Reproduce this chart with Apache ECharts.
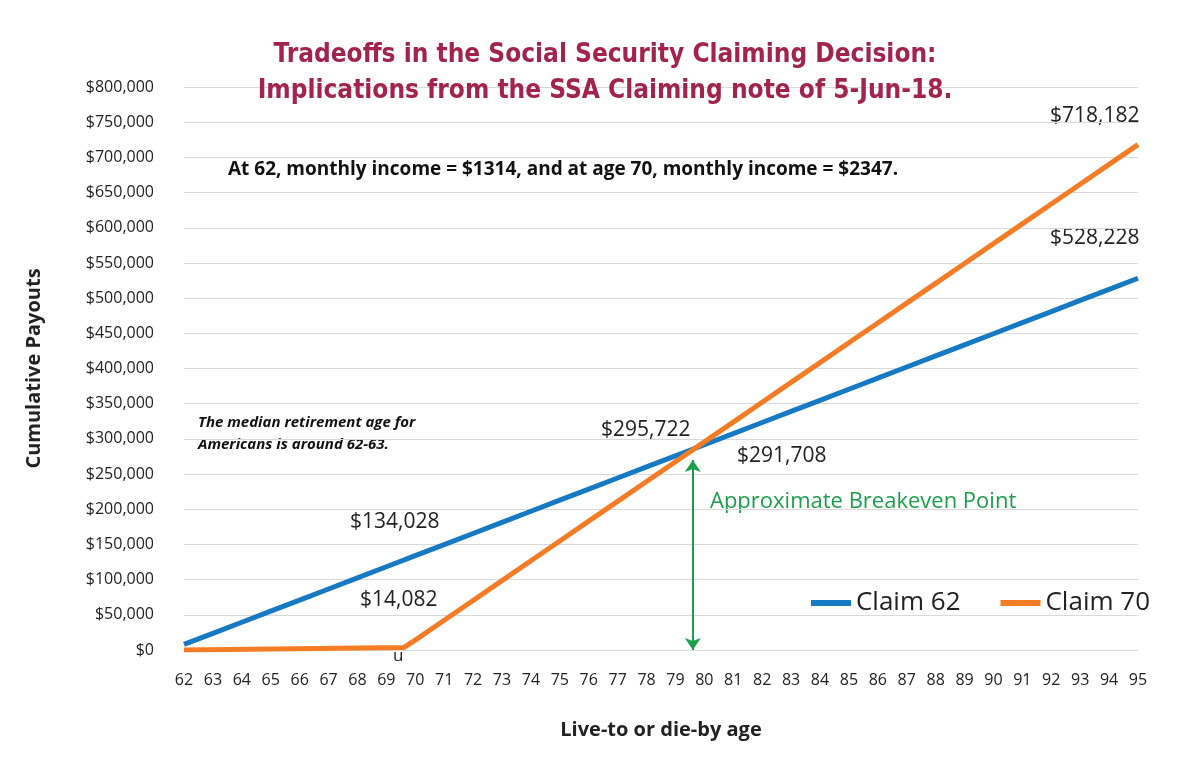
<!DOCTYPE html>
<html>
<head>
<meta charset="utf-8">
<script src="https://cdn.jsdelivr.net/npm/echarts@6/dist/echarts.min.js"></script>
<style>html,body{margin:0;background:#fff}#main{width:1200px;height:771px}</style>
</head>
<body>
<div id="main"></div>
<script>
const ages62 = [62,63,64,65,66,67,68,69,70,71,72,73,74,75,76,77,78,79,80,81,82,83,84,85,86,87,88,89,90,91,92,93,94,95];
const claim62 = [7884,23652,39420,55188,70956,86724,102492,118260,134028,149796,165564,181332,197100,212868,228636,244404,260172,275940,291708,307476,323244,339012,354780,370548,386316,402084,417852,433620,449388,465156,480924,496692,512460,528228];
const ages70 = [70,71,72,73,74,75,76,77,78,79,80,81,82,83,84,85,86,87,88,89,90,91,92,93,94,95];
const claim70 = [14082,42246,70410,98574,126738,154902,183066,211230,239394,267558,295722,323886,352050,380214,408378,436542,464706,492870,521034,549198,577362,605526,633690,661854,690018,718182];
// before 70 nothing is paid (line drawn flat up to the claim)
const pre70 = [[62, 0], [69.6, 3500]];

const font = 'Open Sans';
const myChart = echarts.init(document.getElementById('main'));
myChart.setOption({
    animation: false,
    textStyle: { fontFamily: font },
    grid: { left: 184, right: 62, top: 87, bottom: 121 },
    title: {
        text: 'Tradeoffs in the Social Security Claiming Decision:\nImplications from the SSA Claiming note of 5-Jun-18.',
        left: 600, top: 32, textAlign: 'center',
        textStyle: { fontFamily: 'DejaVu Sans Condensed', fontWeight: 'bold', fontSize: 26, color: '#a3234f', lineHeight: 36 }
    },
    legend: {
        right: 45, top: 585, itemWidth: 40, itemHeight: 6, itemGap: 40, icon: 'rect',
        textStyle: { fontSize: 26, color: '#222' },
        data: ['Claim 62', 'Claim 70']
    },
    xAxis: {
        type: 'value', min: 62, max: 95, interval: 1,
        name: 'Live-to or die-by age', nameLocation: 'middle', nameGap: 70,
        nameTextStyle: { fontSize: 20, fontWeight: 'bold', color: '#222', padding: [0, 0, 0, 0] },
        axisLine: { show: false }, axisTick: { show: false }, splitLine: { show: false },
        axisLabel: { fontSize: 16, color: '#222', margin: 22 }
    },
    yAxis: {
        type: 'value', min: 0, max: 800000, interval: 50000,
        name: 'Cumulative Payouts', nameLocation: 'middle', nameGap: 140,
        nameTextStyle: { fontSize: 20, fontWeight: 'bold', color: '#222' },
        axisLine: { show: false }, axisTick: { show: false },
        axisLabel: { fontSize: 16, color: '#222', margin: 30, formatter: v => '$' + v.toLocaleString('en-US') },
        splitLine: { lineStyle: { color: '#d9d9d9' } }
    },
    series: [
        {
            name: 'Claim 62', type: 'line', showSymbol: false, color: '#1679c4',
            lineStyle: { width: 5 },
            data: ages62.map((a, i) => [a, claim62[i]])
        },
        {
            name: 'Claim 70', type: 'line', showSymbol: false, color: '#f47c24',
            lineStyle: { width: 5 },
            data: pre70.concat(ages70.map((a, i) => [a, claim70[i]])),
            markLine: {
                silent: true, symbol: ['arrow', 'arrow'], symbolSize: 12,
                lineStyle: { color: '#1a9f4a', width: 2, type: 'solid' },
                label: { show: false },
                data: [[{ coord: [79.6, 270000] }, { coord: [79.6, 0] }]]
            }
        }
    ],
    graphic: [
        { type: 'text', left: 228, top: 160, style: { text: 'At 62, monthly income = $1314, and at age 70, monthly income = $2347.', font: 'bold 19px ' + font, fill: '#111' } },
        { type: 'text', left: 198, top: 412, style: { text: 'The median retirement age for\nAmericans is around 62-63.', font: 'italic bold 15px ' + font, fill: '#111', lineHeight: 22 } },
        { type: 'text', left: 1050, top: 106, style: { text: '$718,182', font: '21px ' + font, fill: '#222' } },
        { type: 'text', left: 1050, top: 228, style: { text: '$528,228', font: '21px ' + font, fill: '#222' } },
        { type: 'text', left: 601, top: 420, style: { text: '$295,722', font: '21px ' + font, fill: '#222' } },
        { type: 'text', left: 737, top: 446, style: { text: '$291,708', font: '21px ' + font, fill: '#222' } },
        { type: 'text', left: 350, top: 512, style: { text: '$134,028', font: '21px ' + font, fill: '#222' } },
        { type: 'text', left: 360, top: 590, style: { text: '$14,082', font: '21px ' + font, fill: '#222' } },
        { type: 'text', left: 393, top: 648, style: { text: 'u', font: '17px ' + font, fill: '#222' } },
        { type: 'text', left: 710, top: 491, style: { text: 'Approximate Breakeven Point', font: '22px ' + font, fill: '#1a9f4a' } }
    ]
});
</script>
</body>
</html>
